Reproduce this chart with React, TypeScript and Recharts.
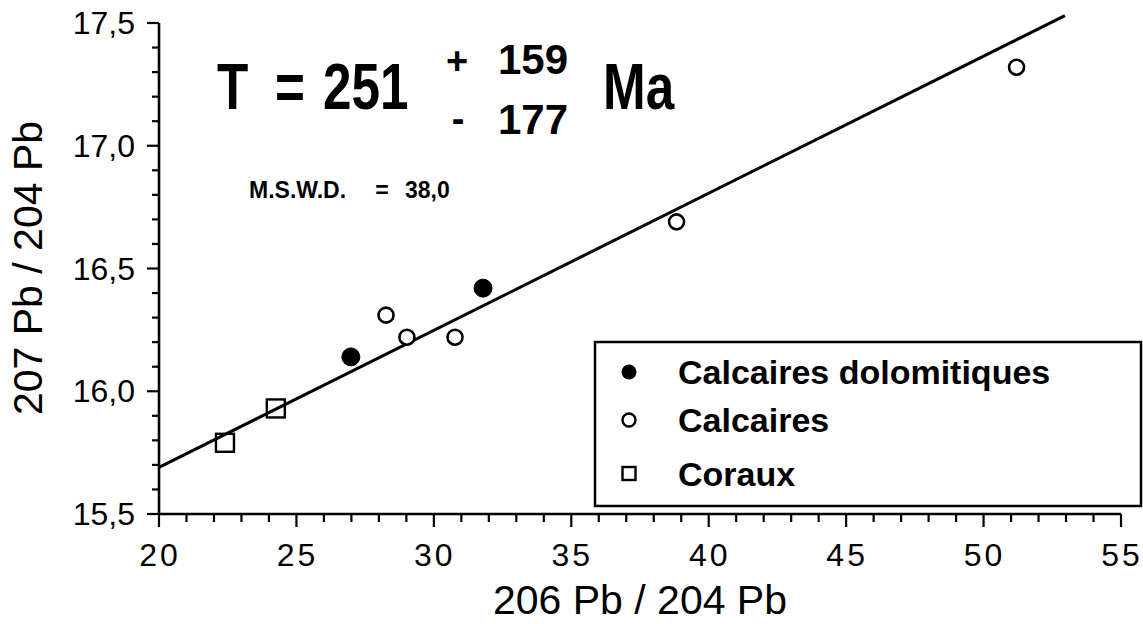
import React from 'react';
import { ComposedChart, Scatter, XAxis, YAxis, ReferenceLine } from 'recharts';

const dolomitiques = [
  { x: 26.98, y: 16.14 },
  { x: 31.79, y: 16.42 },
];
const calcaires = [
  { x: 28.26, y: 16.31 },
  { x: 29.02, y: 16.22 },
  { x: 30.77, y: 16.22 },
  { x: 38.83, y: 16.69 },
  { x: 51.2, y: 17.32 },
];
const coraux = [
  { x: 22.4, y: 15.79 },
  { x: 24.25, y: 15.93 },
];
const regression = [
  { x: 20, y: 15.69 },
  { x: 52.96, y: 17.53 },
];
const xTicks = [20, 21, 22, 23, 24, 25, 26, 27, 28, 29, 30, 31, 32, 33, 34, 35, 36, 37, 38, 39, 40, 41, 42, 43, 44, 45, 46, 47, 48, 49, 50, 51, 52, 53, 54, 55];
const yTicks = [15.5, 15.6, 15.7, 15.8, 15.9, 16.0, 16.1, 16.2, 16.3, 16.4, 16.5, 16.6, 16.7, 16.8, 16.9, 17.0, 17.1, 17.2, 17.3, 17.4, 17.5];
const xTitle = '206 Pb / 204 Pb';
const yTitle = '207 Pb / 204 Pb';
const legendItems = ['Calcaires dolomitiques', 'Calcaires', 'Coraux'];

const FONT = '"Liberation Sans", Arial, Helvetica, sans-serif';

const XTick = (props: any) => {
  const { x, y, payload } = props;
  const v = payload.value;
  const major = Math.round(v) % 5 === 0;
  return (
    <g>
      <line x1={x} x2={x} y1={y} y2={y + (major ? 13 : 8)} stroke="#000" strokeWidth={2.2} />
      {major && (
        <text x={x + 1} y={y + 52} textAnchor="middle" fontFamily={FONT} fontSize={32} letterSpacing={3} fill="#000">
          {String(v)}
        </text>
      )}
    </g>
  );
};

const YTick = (props: any) => {
  const { x, y, payload } = props;
  const v = payload.value;
  const major = Math.round(v * 10) % 5 === 0;
  return (
    <g>
      <line x1={x} x2={x - (major ? 12 : 7)} y1={y} y2={y} stroke="#000" strokeWidth={2.2} />
      {major && (
        <text x={x - 24} y={y + 11} textAnchor="end" fontFamily={FONT} fontSize={32} fill="#000">
          {v.toFixed(1).replace('.', ',')}
        </text>
      )}
    </g>
  );
};

const filledCircle = (p: any) => <circle cx={p.cx} cy={p.cy} r={9} fill="#000" stroke="#000" strokeWidth={1} />;
const openCircle = (p: any) => <circle cx={p.cx} cy={p.cy} r={7.5} fill="#fff" stroke="#000" strokeWidth={2.6} />;
const openSquare = (p: any) => <rect x={p.cx - 9} y={p.cy - 9} width={18} height={18} fill="none" stroke="#000" strokeWidth={2.4} />;

const Condensed = ({ x, y, size, children, anchor }: any) => (
  <text transform={`translate(${x},${y}) scale(0.8,1)`} fontSize={size} textAnchor={anchor || 'start'}>
    {children}
  </text>
);

export default function App() {
  return (
    <div style={{ position: 'absolute', left: 0, top: 0, width: 1143, height: 624, background: '#fff' }}>
      <ComposedChart width={1143} height={624} margin={{ top: 23, right: 22, left: 0, bottom: 0 }}>
        <XAxis
          type="number"
          dataKey="x"
          domain={[20, 55]}
          ticks={xTicks}
          interval={0}
          tickSize={0}
          tickMargin={0}
          tickLine={false}
          height={110}
          axisLine={{ stroke: '#000', strokeWidth: 2.6 }}
          tick={<XTick />}
          allowDataOverflow
          label={(props: any) => {
            const vb = props.viewBox;
            return (
              <text x={vb.x + vb.width / 2} y={614} textAnchor="middle" fontFamily={FONT} fontSize={41} fill="#000">
                {xTitle}
              </text>
            );
          }}
        />
        <YAxis
          type="number"
          dataKey="y"
          domain={[15.5, 17.5]}
          ticks={yTicks}
          interval={0}
          tickSize={0}
          tickMargin={0}
          tickLine={false}
          width={159}
          axisLine={{ stroke: '#000', strokeWidth: 2.6 }}
          tick={<YTick />}
          allowDataOverflow
          label={() => (
            <text x={42} y={268} transform="rotate(-90 42 268)" textAnchor="middle" fontFamily={FONT} fontSize={41} fill="#000">
              {yTitle}
            </text>
          )}
        />
        <ReferenceLine segment={regression} stroke="#000" strokeWidth={3} ifOverflow="visible" />
        <Scatter data={coraux} shape={openSquare} isAnimationActive={false} />
        <Scatter data={calcaires} shape={openCircle} isAnimationActive={false} />
        <Scatter data={dolomitiques} shape={filledCircle} isAnimationActive={false} />
      </ComposedChart>
      <svg width={1143} height={624} style={{ position: 'absolute', left: 0, top: 0, pointerEvents: 'none' }}>
        <g fontFamily={FONT} fontWeight="bold" fill="#000">
          <Condensed x={217} y={109} size={64}>T</Condensed>
          <Condensed x={290} y={109} size={64} anchor="middle">=</Condensed>
          <Condensed x={323} y={109} size={64}>251</Condensed>
          <text x={457} y={74} fontSize={38} textAnchor="middle">+</text>
          <text x={498} y={74} fontSize={42}>159</text>
          <text x={458} y={132} fontSize={38} textAnchor="middle">-</text>
          <text x={498} y={134} fontSize={42}>177</text>
          <Condensed x={603} y={109} size={64}>Ma</Condensed>
          <text x={249} y={198} fontSize={23}>M.S.W.D.</text>
          <text x={382} y={198} fontSize={23} textAnchor="middle">=</text>
          <text x={405} y={198} fontSize={23}>38,0</text>
        </g>
        <rect x={595} y={342} width={546} height={164} fill="#fff" stroke="#000" strokeWidth={2.5} />
        <circle cx={629} cy={372} r={7.5} fill="#000" />
        <circle cx={629} cy={420} r={6.5} fill="#fff" stroke="#000" strokeWidth={2.4} />
        <rect x={622.5} y={467} width={13} height={13} fill="#fff" stroke="#000" strokeWidth={2.4} />
        <g fontFamily={FONT} fontWeight="bold" fontSize={34} fill="#000">
          <text x={678} y={384}>{legendItems[0]}</text>
          <text x={678} y={432}>{legendItems[1]}</text>
          <text x={678} y={486}>{legendItems[2]}</text>
        </g>
      </svg>
    </div>
  );
}
